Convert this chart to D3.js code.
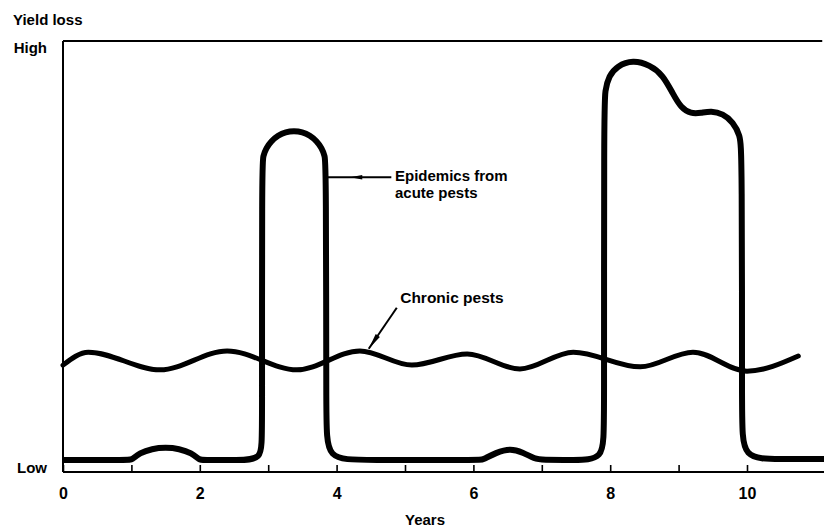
<!DOCTYPE html>
<html>
<head>
<meta charset="utf-8">
<script src="https://cdn.jsdelivr.net/npm/d3@7"></script>
<style>
  body { margin: 0; background: #fff; }
  text { font-family: "Liberation Sans", Arial, sans-serif; font-weight: bold; fill: #000; }
</style>
</head>
<body>
<script>
// years on x, yield loss (0 = Low, 100 = High) on y
var acuteYears = [0, 0.98, 1.0, 1.12, 1.3, 1.5, 1.7, 1.88, 2.0, 2.02, 2.56, 2.91, 2.91,
    2.909, 2.925, 2.972, 3.046, 3.143, 3.256, 3.377, 3.498, 3.611, 3.708, 3.782, 3.829, 3.845,
    3.85, 3.85, 4.4, 6.1, 6.13, 6.33, 6.54, 6.72, 6.9, 7.0,
    7.46, 7.91, 7.91, 7.91, 7.924, 7.982, 8.099, 8.333, 8.582, 8.772, 8.918, 9.035, 9.181, 9.327, 9.474,
    9.649, 9.795, 9.898, 9.927, 9.927, 9.927, 10.48, 11.15];
var acuteLoss = [2.8, 2.8, 2.8, 4.4, 5.4, 5.7, 5.4, 4.4, 2.8, 2.8, 2.8, 2.8, 8.3,
    71.2, 73.3, 75.2, 76.8, 78.1, 78.9, 79.1, 78.9, 78.1, 76.8, 75.2, 73.3, 71.2,
    11.8, 2.8, 2.8, 2.8, 2.8, 4.5, 5.5, 4.6, 3.0, 2.8,
    2.8, 2.8, 10.3, 84.0, 88.6, 91.9, 94.2, 95.6, 94.4, 92.1, 87.7, 84.5, 83.1, 83.3, 83.8,
    83.1, 81.2, 78.2, 74.2, 12, 3.0, 3.0, 3.0];

var chronicYears = [0, 0.37, 1.42, 2.40, 3.42, 4.34, 5.10, 5.91, 6.68, 7.46, 8.44, 9.21, 10.0, 10.75];
var chronicLoss = [24.8, 27.8, 23.7, 28.1, 23.7, 28.1, 24.8, 27.4, 23.9, 27.8, 24.4, 27.8, 23.4, 26.9];

var tickYears = [0, 1, 2, 3, 4, 5, 6, 7, 8, 9, 10];
var levelLabels = ["Low", "High"];

var w = 824;
var h = 527;

var x = d3.scaleLinear().domain([0, 10]).range([63, 747]);
var y = d3.scaleLinear().domain([0, 100]).range([472, 41]);

var svg = d3.select("body")
    .append("svg")
    .attr("width", w)
    .attr("height", h);

// frame: left side, top, bottom axis line
svg.append("line")
    .attr("x1", x(0)).attr("x2", x(0))
    .attr("y1", y(100)).attr("y2", y(0))
    .attr("stroke", "#000").attr("stroke-width", 2);
svg.append("line")
    .attr("x1", x(0)).attr("x2", x(11.1))
    .attr("y1", y(100)).attr("y2", y(100))
    .attr("stroke", "#000").attr("stroke-width", 2);
svg.append("line")
    .attr("x1", x(0)).attr("x2", w)
    .attr("y1", y(0)).attr("y2", y(0))
    .attr("stroke", "#000").attr("stroke-width", 2);

var xAxis = d3.axisBottom(x)
    .tickValues(tickYears)
    .tickSizeInner(-7)
    .tickSizeOuter(0)
    .tickPadding(16)
    .tickFormat(function (d) { return d % 2 === 0 ? d : ""; });

var gx = svg.append("g")
    .attr("transform", "translate(0," + y(0) + ")")
    .call(xAxis);
gx.select(".domain").remove();
gx.selectAll(".tick line").attr("stroke", "#000").attr("stroke-width", 1.6);
gx.selectAll(".tick text")
    .style("font-size", "16px")
    .style("font-family", "Liberation Sans, Arial, sans-serif")
    .style("font-weight", "bold");

svg.append("text")
    .attr("x", 425).attr("y", 525)
    .attr("text-anchor", "middle")
    .style("font-size", "15px")
    .text("Years");

svg.append("text")
    .attr("x", 13).attr("y", 25)
    .style("font-size", "15px")
    .text("Yield loss");

svg.append("text")
    .attr("x", 47).attr("y", y(0) + 1)
    .attr("text-anchor", "end")
    .style("font-size", "15px")
    .text(levelLabels[0]);
svg.append("text")
    .attr("x", 47).attr("y", y(100) + 12)
    .attr("text-anchor", "end")
    .style("font-size", "15px")
    .text(levelLabels[1]);

// curves
var acute = acuteYears.map(function (d, i) { return [d, acuteLoss[i]]; });
var chronic = chronicYears.map(function (d, i) { return [d, chronicLoss[i]]; });

var acuteLine = d3.line()
    .x(function (d) { return x(d[0]); })
    .y(function (d) { return y(d[1]); })
    .curve(d3.curveBasis);

var chronicLine = d3.line()
    .x(function (d) { return x(d[0]); })
    .y(function (d) { return y(d[1]); })
    .curve(d3.curveMonotoneX);

svg.append("path")
    .datum(chronic)
    .attr("d", chronicLine)
    .attr("fill", "none")
    .attr("stroke", "#000")
    .attr("stroke-width", 5)
    .attr("stroke-linecap", "round");

svg.append("path")
    .datum(acute)
    .attr("d", acuteLine)
    .attr("fill", "none")
    .attr("stroke", "#000")
    .attr("stroke-width", 6)
    .attr("stroke-linejoin", "round");

// annotations
svg.append("line")
    .attr("x1", x(3.87)).attr("x2", x(4.8))
    .attr("y1", y(68.4)).attr("y2", y(68.4))
    .attr("stroke", "#000").attr("stroke-width", 2);
svg.append("path")
    .attr("d", "M" + (x(4.2)) + "," + y(68.4) + "l12,-2.2l0,4.4z")
    .attr("fill", "#000");

svg.append("text")
    .attr("x", x(4.854)).attr("y", y(67.6))
    .style("font-size", "15px")
    .text("Epidemics from");
svg.append("text")
    .attr("x", x(4.854)).attr("y", y(67.6) + 17)
    .style("font-size", "15px")
    .text("acute pests");

svg.append("line")
    .attr("x1", x(4.88)).attr("x2", x(4.47))
    .attr("y1", y(38.1)).attr("y2", y(28.6))
    .attr("stroke", "#000").attr("stroke-width", 2);
var ax = x(4.47), ay = y(28.6);
var ang = Math.atan2(y(38.1) - ay, x(4.88) - ax);
var p1 = [ax + 16 * Math.cos(ang) - 2.5 * Math.sin(ang), ay + 16 * Math.sin(ang) + 2.5 * Math.cos(ang)];
var p2 = [ax + 16 * Math.cos(ang) + 2.5 * Math.sin(ang), ay + 16 * Math.sin(ang) - 2.5 * Math.cos(ang)];
svg.append("path")
    .attr("d", "M" + ax + "," + ay + "L" + p1 + "L" + p2 + "Z")
    .attr("fill", "#000");

svg.append("text")
    .attr("x", x(4.93)).attr("y", y(39.2))
    .style("font-size", "15.5px")
    .text("Chronic pests");
</script>
</body>
</html>
